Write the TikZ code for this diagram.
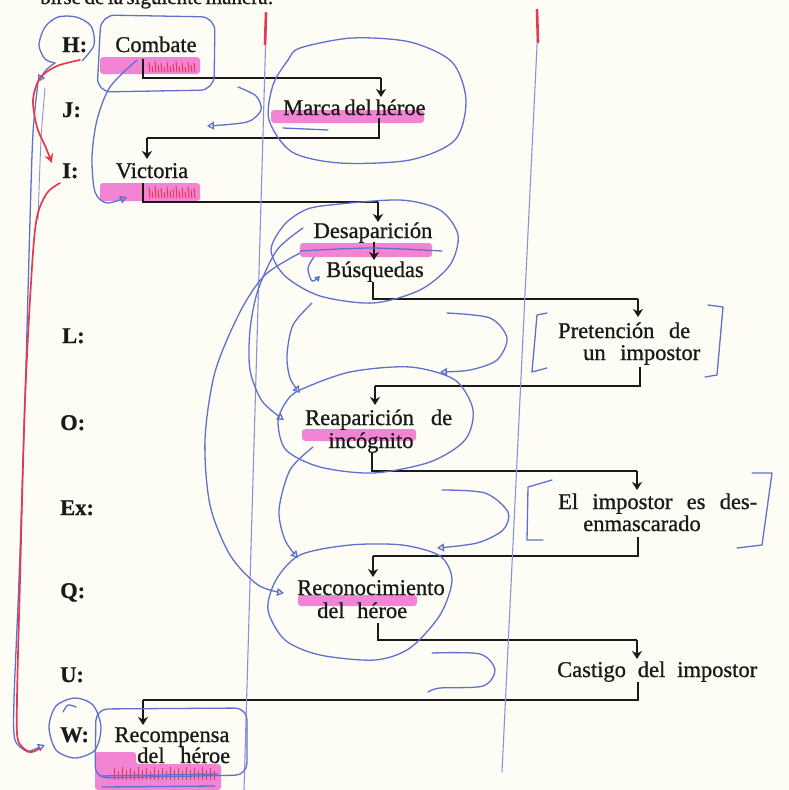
\documentclass[tikz,border=0pt]{standalone}
\usepackage{fontspec}
\setmainfont{Liberation Serif}[FakeBold=0.9]
\newfontfamily\labelfont{Liberation Serif Bold}[FakeBold=0.6]
\usetikzlibrary{arrows.meta}
\definecolor{paper}{RGB}{253,253,246}
\definecolor{ink}{RGB}{26,26,26}
\definecolor{penblue}{RGB}{96,112,206}
\definecolor{redpen}{RGB}{228,58,78}
\definecolor{marker}{RGB}{241,112,206}
\begin{document}
\begin{tikzpicture}[x=1pt,y=-1pt,
  txt/.style={inner sep=0pt, anchor=base, text=ink, font=\fontsize{22.5}{24}\selectfont},
  txtw/.style={txt, anchor=base west},
  lbl/.style={txt, anchor=base west, font=\fontsize{22.5}{24}\labelfont},
  bar/.style={draw=ink, line width=2.8pt},
  drop/.style={draw=ink, line width=1.7pt, -{Stealth[length=8pt,width=10pt,inset=2.5pt]}},
  pen/.style={draw=penblue, line width=1.3pt, line cap=round, line join=round},
  penthin/.style={draw=penblue!75, line width=0.9pt, line cap=round},
  penarrow/.style={pen, -{Triangle[open,length=7pt,width=8pt]}},
  redink/.style={draw=redpen, line width=1.7pt, line cap=round, line join=round},
  hl/.style={fill=marker, opacity=0.85},
  hatch/.style={draw=redpen, line width=1pt},
]
\useasboundingbox (0,0) rectangle (789,790);
\clip (0,0) rectangle (789,790);
\fill[paper] (0,0) rectangle (789,790);

% ---------- highlighter marks ----------
\fill[hl, rounded corners=3] (100,57) rectangle (200,74);
\fill[hl, rounded corners=3] (271,110) rectangle (424,123);
\fill[hl, rounded corners=3] (100,183) rectangle (200,201);
\fill[hl, rounded corners=3] (300,243) rectangle (432,257);
\fill[hl, rounded corners=3] (302,429) rectangle (416,441);
\fill[hl, rounded corners=3] (298,595) rectangle (417,606);
\fill[hl, rounded corners=3] (95,752) -- (136,752) -- (136,764) -- (221,764) -- (221,790) -- (95,790) -- cycle;

% red hatching over the highlighter
\foreach \x/\t in {149/62,152/66,155/61,158/65,161/63,164/67,167/62,170/66,173/64,176/61,179/66,182/63,185/67,188/62,191/65,194/63}{
  \draw[hatch] (\x,\t) -- (\x+1,72);
  \draw[hatch] (\x,\t+125) -- (\x+1,198);
}
\foreach \x/\t in {114/768,118/771,122/767,126/770,130/768,134/771,138/767,142/770,146/768,150/771,154/767,158/770,162/768,166/771,170/767,174/770,178/768,182/771,186/767,190/770,194/768,198/771,202/767,206/770,210/768,214/771}{
  \draw[hatch] (\x,\t) -- (\x,780);
}

% ---------- printed text ----------
\node[txtw, font=\fontsize{21}{24}\selectfont] (topline) at (40,4) {\makebox[225pt][s]{birse de la siguiente manera:}};

\node[lbl] (lH) at (62,52) {H:};
\node[lbl] (lJ) at (62,117) {J:};
\node[lbl] (lI) at (62,178) {I:};
\node[lbl] (lL) at (62,343) {L:};
\node[lbl] (lO) at (60,430) {O:};
\node[lbl] (lEx) at (60,515) {Ex:};
\node[lbl] (lQ) at (60,598) {Q:};
\node[lbl] (lU) at (60,682) {U:};
\node[lbl] (lW) at (60,742) {W:};

\node[txt] (combate) at (156,52) {Combate};
\node[txtw] (marca) at (283,115) {\makebox[140pt][s]{Marca del héroe}};
\node[txt] (victoria) at (152,178) {Victoria};
\node[txt] (desap) at (373,238) {Desaparición};
\node[txt] (busq) at (375,277) {Búsquedas};
\node[txtw] (pretA) at (558,338) {\makebox[132pt][s]{Pretención de}};
\node[txtw] (pretB) at (583,360) {\makebox[117pt][s]{un impostor}};
\node[txtw] (reapA) at (305,425) {\makebox[147pt][s]{Reaparición de}};
\node[txt] (reapB) at (371,448) {incógnito};
\node[txtw] (impA) at (558,509) {\makebox[199pt][s]{El impostor es des-}};
\node[txt] (impB) at (642,531) {enmascarado};
\node[txt] (reconA) at (371,595) {Reconocimiento};
\node[txtw] (reconB) at (317,618) {\makebox[90pt][s]{del héroe}};
\node[txtw] (castigo) at (557,677) {\makebox[200pt][s]{Castigo del impostor}};
\node[txt] (recompA) at (172,742) {Recompensa};
\node[txtw] (recompB) at (137,763) {\makebox[93pt][s]{del héroe}};

% ---------- printed connectors ----------
\coordinate (k1) at (143,59);  \coordinate (e1) at (381,78);  \coordinate (a1) at (381,97);
\coordinate (k2) at (379,118); \coordinate (e2) at (147,138); \coordinate (a2) at (147,159);
\coordinate (k3) at (143,183); \coordinate (e3) at (378,202); \coordinate (a3) at (378,222);
\coordinate (s4) at (374,242); \coordinate (a4) at (374,260);
\coordinate (k5) at (373,282); \coordinate (e5) at (638,299); \coordinate (a5) at (638,317);
\coordinate (k6) at (640,367); \coordinate (e6) at (375,386); \coordinate (a6) at (375,405);
\coordinate (k7) at (372,452); \coordinate (e7) at (637,471); \coordinate (a7) at (637,490);
\coordinate (k8) at (638,537); \coordinate (e8) at (373,556); \coordinate (a8) at (373,577);
\coordinate (k9) at (378,623); \coordinate (e9) at (637,640); \coordinate (a9) at (637,659);
\coordinate (k10) at (638,682); \coordinate (e10) at (143,700); \coordinate (a10) at (143,725);

\foreach \k/\e/\a in {k1/e1/a1,k2/e2/a2,k3/e3/a3,k5/e5/a5,k6/e6/a6,k7/e7/a7,k8/e8/a8,k9/e9/a9,k10/e10/a10}{
  \draw[bar] (\k) |- (\e);
  \draw[drop] (\e) -- (\a);
}
\draw[drop] (s4) -- (a4);

% ---------- pen annotations ----------
% page rules
\draw[penthin, line width=1.1pt] (266,30) -- (244,790);
\draw[penthin, line width=1.1pt] (538,25) -- (502,772);
\draw[redink, line width=2.6pt] (266,13) -- (265,44);
\draw[redink, line width=2.6pt] (537,10) -- (538,42);

% circles and boxes round the labels and events
\draw[pen] plot[smooth] coordinates {(82,61) (94,45) (91,26) (76,17) (58,17) (45,27) (39,45) (45,59) (55,63)};
\draw[penarrow] plot[smooth] coordinates {(55,63) (46,70) (38,82)};
\draw[pen, rounded corners=14] (101,15) -- (215,17) -- (214,90) -- (97,92) -- cycle;
\draw[pen] plot[smooth cycle] coordinates {(75,698) (93,705) (101,727) (95,750) (75,758) (56,750) (49,727) (56,706)};
\draw[pen] plot[smooth] coordinates {(63,712) (68,705) (76,707)};
\draw[pen, rounded corners=12] (96,709) -- (247,708) -- (247,775) -- (95,778) -- cycle;
\draw[pen] (100,776) -- (218,774);
\draw[pen] (102,787) -- (215,786);

% loops round the central events
\draw[pen] plot[smooth cycle] coordinates {(300,48) (352,38) (410,42) (452,62) (466,100) (455,140) (410,160) (340,163) (292,152) (269,120) (273,85) (288,60)};
\draw[pen] (283,128) -- (328,130);
\draw[pen] plot[smooth cycle] coordinates {(330,205) (400,200) (440,210) (458,235) (450,265) (420,290) (373,303) (320,296) (285,276) (271,250) (284,225) (305,210)};
\draw[pen] plot[smooth] coordinates {(300,251) (370,248) (442,251)};
\draw[penarrow, -{Triangle[open,length=5pt,width=6pt]}] plot[smooth] coordinates {(314,257) (308,268) (312,281) (320,276)};
\draw[pen] plot[smooth cycle] coordinates {(300,390) (350,372) (410,367) (455,380) (473,410) (465,440) (430,462) (373,473) (320,467) (286,450) (278,422) (286,402)};
\draw[pen] plot[smooth cycle] coordinates {(300,555) (350,545) (402,545) (440,556) (452,580) (440,615) (410,648) (375,660) (320,655) (285,640) (268,610) (276,580)};

% links drawn between the loops
\draw[penarrow] plot[smooth] coordinates {(238,87) (256,96) (261,110) (247,122) (207,126)};
\draw[penarrow] plot[smooth] coordinates {(137,60) (110,87) (97,120) (92,157) (95,192) (107,203) (127,197)};
\draw[penarrow] plot[smooth] coordinates {(303,228) (277,250) (258,290) (250,330) (250,370) (262,401) (284,420)};
\draw[penarrow] plot[smooth] coordinates {(300,253) (265,275) (240,312) (215,372) (205,440) (210,505) (230,555) (258,585) (284,593)};
\draw[penarrow] plot[smooth] coordinates {(312,303) (293,325) (287,355) (290,378) (300,393)};
\draw[penarrow] plot[smooth] coordinates {(313,447) (290,470) (279,510) (285,540) (298,558)};
\draw[penarrow] plot[smooth] coordinates {(447,313) (490,318) (507,338) (497,360) (470,370) (440,372)};
\draw[penarrow] plot[smooth] coordinates {(442,490) (485,493) (508,512) (503,530) (477,543) (437,548)};
\draw[pen] plot[smooth] coordinates {(432,653) (480,654) (495,670) (483,686) (440,688) (428,692)};

% brackets round the optional events
\draw[pen] (547,313) -- (537,315) -- (532,372) -- (547,368);
\draw[pen] (708,305) -- (723,307) -- (717,375) -- (705,377);
\draw[pen] (552,480) -- (528,487) -- (527,540) -- (543,540);
\draw[pen] (752,473) -- (772,473) -- (762,545) -- (737,548);

% margin lines from the top down to the reward
\draw[pen] plot[smooth] coordinates {(38,82) (33,133) (30,220) (25,400) (19,580) (14,700) (15,740) (28,752)};
\draw[penarrow] (28,752) -- (45,745);
\draw[penthin] plot[smooth] coordinates {(45,88) (41,140) (38,220)};
\draw[redink, -{Stealth[length=9pt,width=9pt]}] plot[smooth] coordinates {(80,60) (57,66) (40,78) (33,100) (37,127) (46,148) (52,163)};
\draw[redink] plot[smooth] coordinates {(60,183) (47,193) (37,217) (32,267) (25,400) (20,580) (17,700) (18,740) (30,752) (40,748)};
\end{tikzpicture}
\end{document}
